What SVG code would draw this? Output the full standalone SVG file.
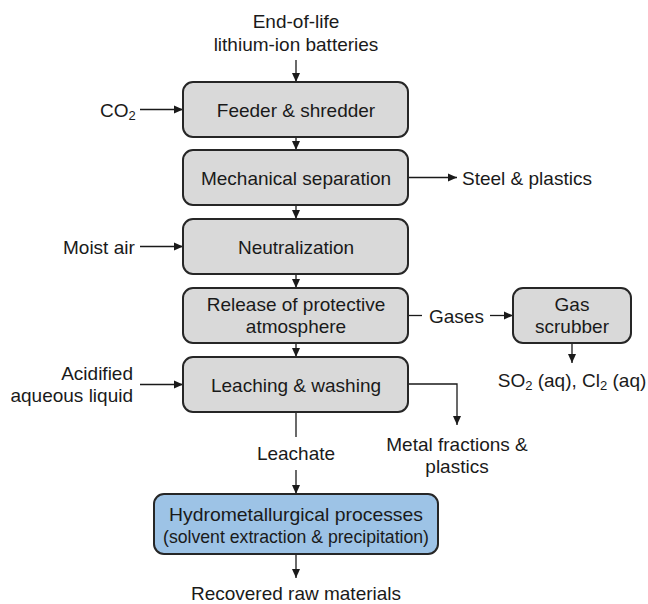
<svg xmlns="http://www.w3.org/2000/svg" width="648" height="604" viewBox="0 0 648 604">
<defs>
<marker id="ah" markerWidth="10" markerHeight="10" refX="9" refY="5" orient="auto" markerUnits="userSpaceOnUse">
<path d="M0,1 L9,5 L0,9 Z" fill="#1a1a1a"/>
</marker>
<style>
text{font-family:"Liberation Sans",Arial,sans-serif;font-size:19px;fill:#1a1a1a}
.c{text-anchor:middle}
.r{text-anchor:end}
.box{fill:#d9d9d9;stroke:#262626;stroke-width:2}
.blue{fill:#9dc3e6;stroke:#262626;stroke-width:2}
.ln{fill:none;stroke:#1a1a1a;stroke-width:1.3}
.arr{fill:none;stroke:#1a1a1a;stroke-width:1.3;marker-end:url(#ah)}
.sub{font-size:13px}
</style>
</defs>
<rect width="648" height="604" fill="#ffffff"/>

<g id="connectors">
<line class="arr" x1="296" y1="60" x2="296" y2="82"/>
<line class="arr" x1="140" y1="109.5" x2="183" y2="109.5"/>
<line class="arr" x1="296" y1="137" x2="296" y2="150"/>
<line class="arr" x1="408" y1="177.5" x2="457" y2="177.5"/>
<line class="arr" x1="296" y1="205" x2="296" y2="219"/>
<line class="arr" x1="140" y1="246.5" x2="183" y2="246.5"/>
<line class="arr" x1="296" y1="274" x2="296" y2="288"/>
<line class="ln" x1="408" y1="315.5" x2="422" y2="315.5"/>
<line class="arr" x1="490" y1="315.5" x2="513" y2="315.5"/>
<line class="arr" x1="572" y1="343" x2="572" y2="363"/>
<line class="arr" x1="296" y1="343" x2="296" y2="357"/>
<line class="arr" x1="140" y1="384.5" x2="183" y2="384.5"/>
<polyline class="arr" points="408,384 457,384 457,425"/>
<line class="ln" x1="296" y1="412" x2="296" y2="437"/>
<line class="arr" x1="296" y1="470" x2="296" y2="494"/>
<line class="arr" x1="296" y1="554" x2="296" y2="578"/>
</g>

<g id="labels">
<text class="c" x="296" y="28">End-of-life</text>
<text class="c" x="296" y="51">lithium-ion batteries</text>
<text x="100" y="117">CO<tspan class="sub" dy="3">2</tspan></text>
<text x="462" y="184.5">Steel &amp; plastics</text>
<text x="63" y="253.5">Moist air</text>
<text x="429" y="322.5">Gases</text>
<text class="c" x="572" y="387">SO<tspan class="sub" dy="3">2</tspan><tspan dy="-3"> (aq), Cl</tspan><tspan class="sub" dy="3">2</tspan><tspan dy="-3"> (aq)</tspan></text>
<text class="r" x="133" y="380">Acidified</text>
<text class="r" x="133" y="402">aqueous liquid</text>
<text class="c" x="457" y="451">Metal fractions &amp;</text>
<text class="c" x="457" y="473">plastics</text>
<text class="c" x="296" y="460">Leachate</text>
<text class="c" x="296" y="600">Recovered raw materials</text>
</g>

<g id="feeder">
<rect class="box" x="183" y="82" width="225" height="55" rx="10"/>
<text class="c" x="296" y="116.5">Feeder &amp; shredder</text>
</g>
<g id="mechanical">
<rect class="box" x="183" y="150" width="225" height="55" rx="10"/>
<text class="c" x="296" y="184.5">Mechanical separation</text>
</g>
<g id="neutralization">
<rect class="box" x="183" y="219" width="225" height="55" rx="10"/>
<text class="c" x="296" y="253.5">Neutralization</text>
</g>
<g id="release">
<rect class="box" x="183" y="288" width="225" height="55" rx="10"/>
<text class="c" x="296" y="311">Release of protective</text>
<text class="c" x="296" y="333">atmosphere</text>
</g>
<g id="scrubber">
<rect class="box" x="513" y="288" width="118" height="55" rx="10"/>
<text class="c" x="572" y="311">Gas</text>
<text class="c" x="572" y="333">scrubber</text>
</g>
<g id="leaching">
<rect class="box" x="183" y="357" width="225" height="55" rx="10"/>
<text class="c" x="296" y="391.5">Leaching &amp; washing</text>
</g>
<g id="hydro">
<rect class="blue" x="154" y="494" width="284" height="60" rx="10"/>
<text class="c" x="296" y="521" textLength="254" lengthAdjust="spacingAndGlyphs">Hydrometallurgical processes</text>
<text class="c" x="296" y="543" textLength="266" lengthAdjust="spacingAndGlyphs">(solvent extraction &amp; precipitation)</text>
</g>
</svg>
